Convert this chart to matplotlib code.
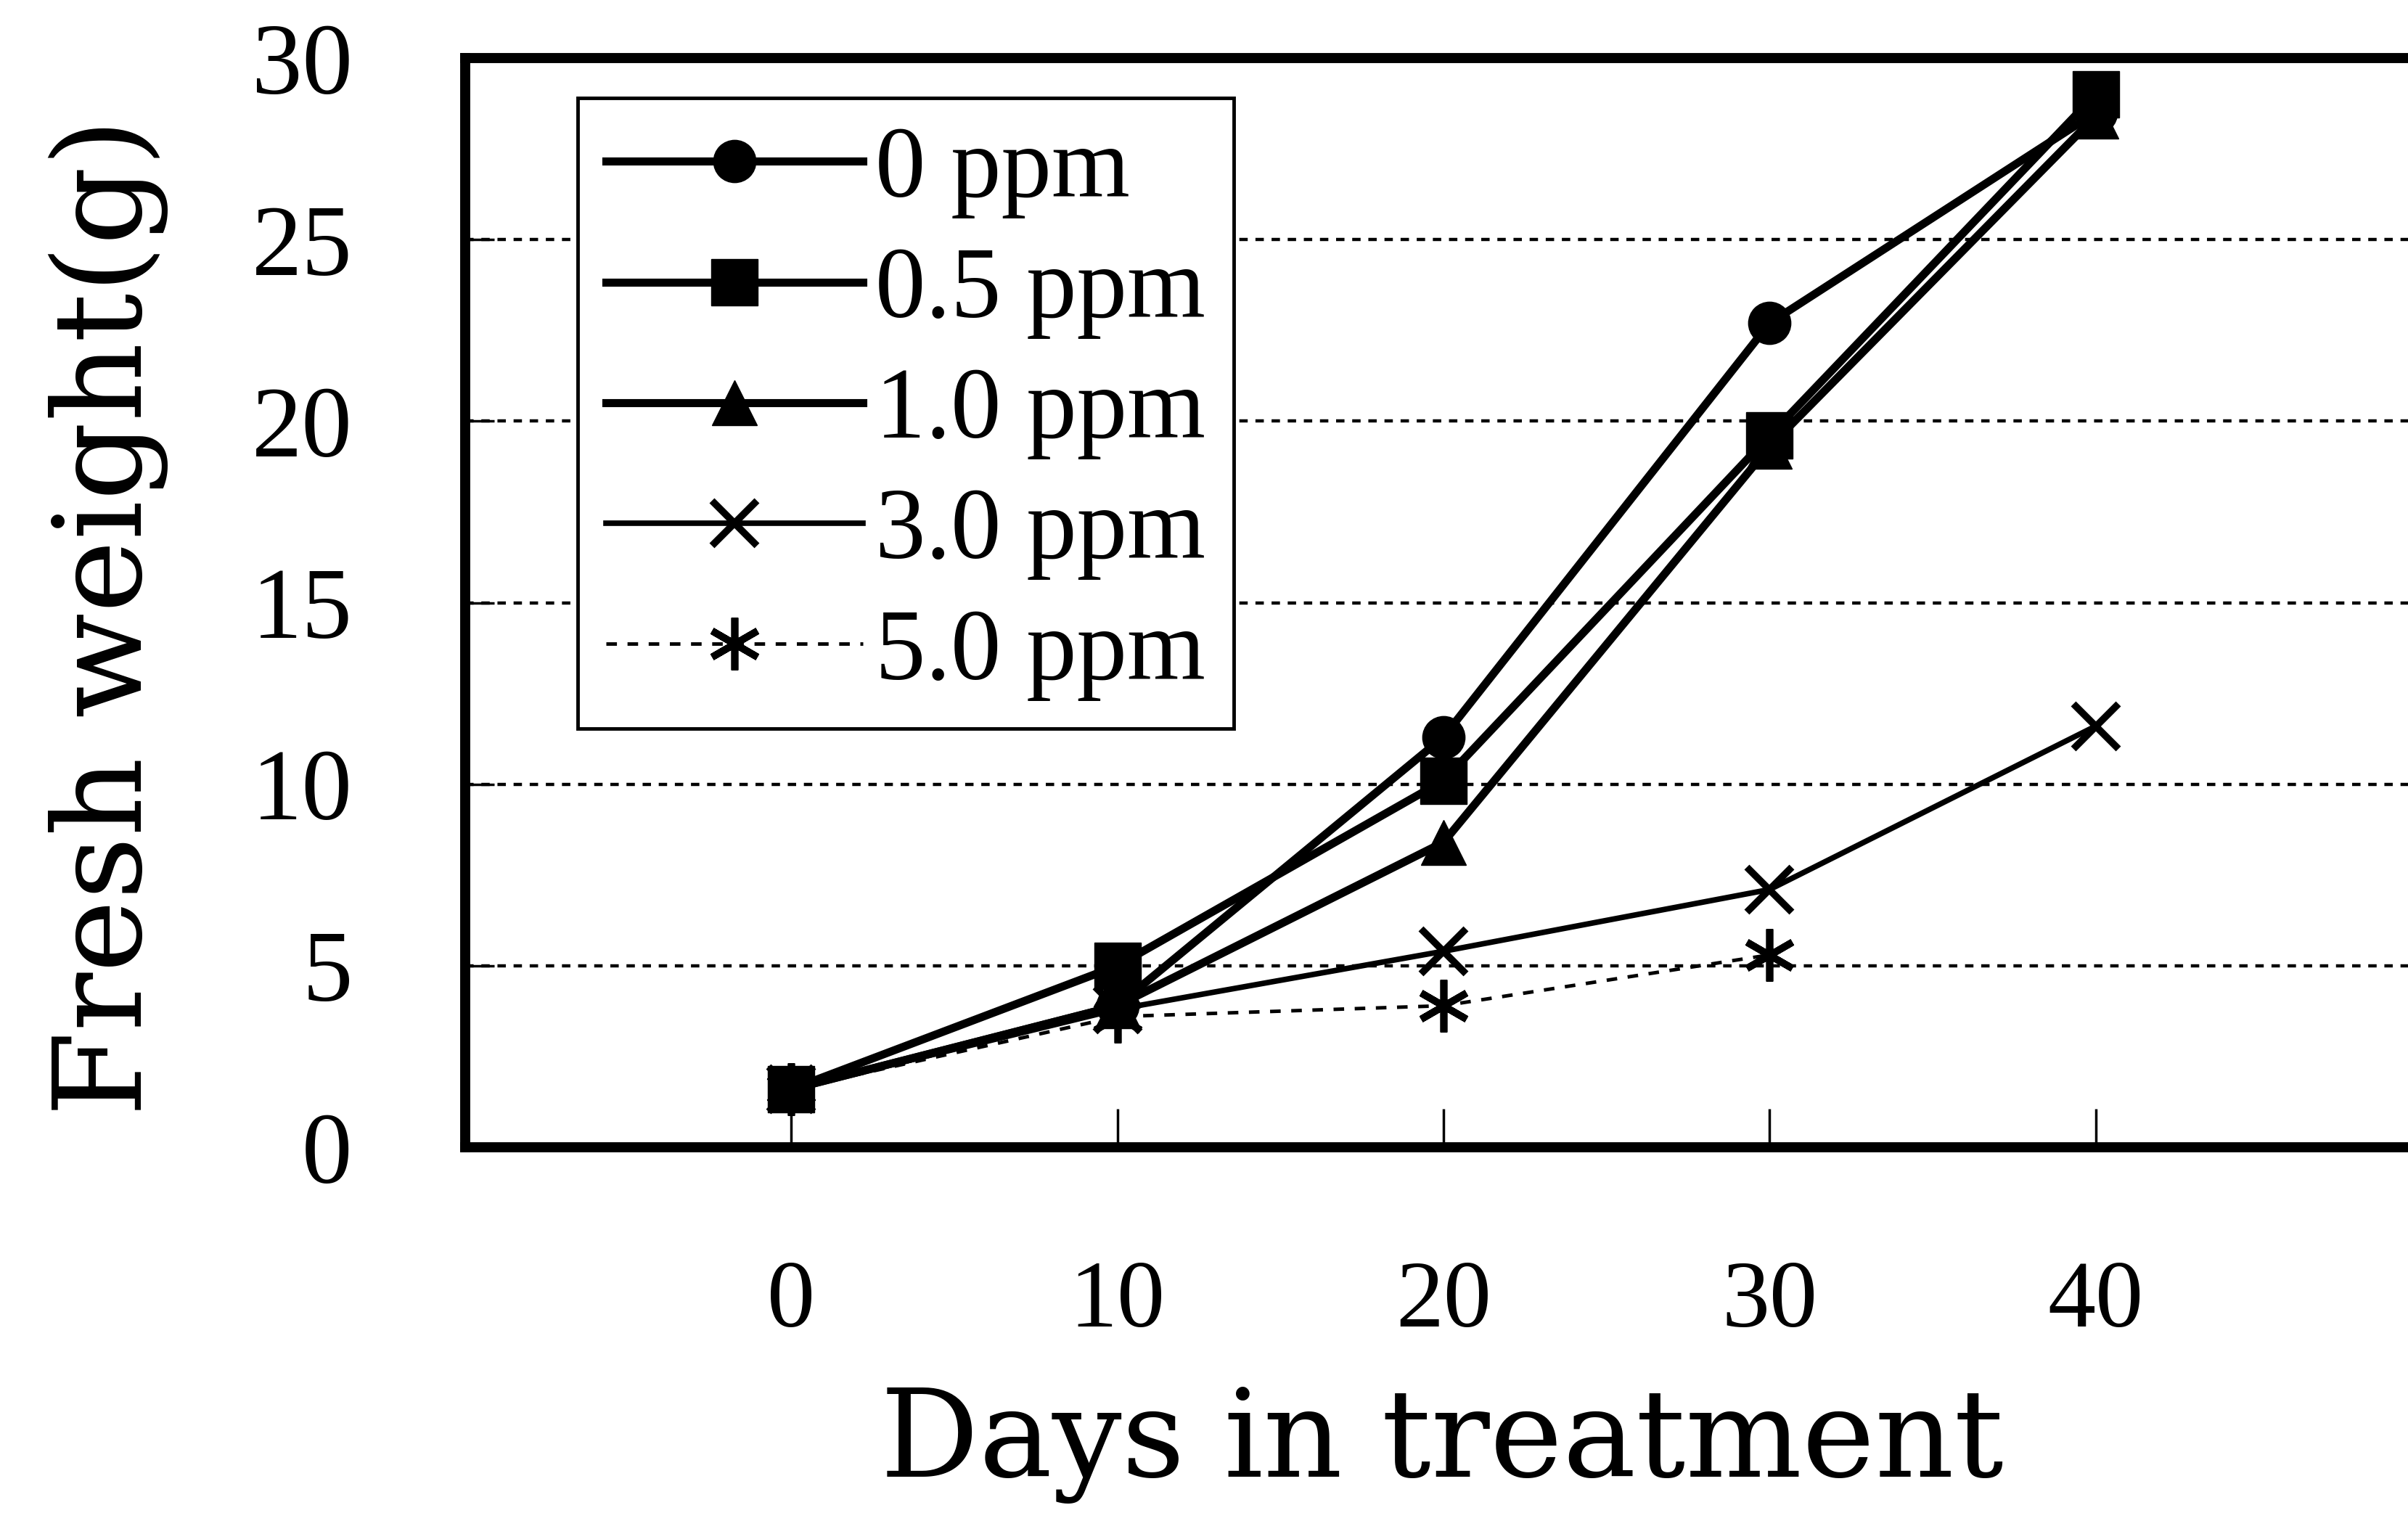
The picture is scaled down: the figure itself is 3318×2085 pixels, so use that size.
import matplotlib
matplotlib.use("Agg")
import matplotlib.pyplot as plt

# Fresh weight over time for each treatment concentration
days = [0, 10, 20, 30, 40]
fw_0ppm = [1.6, 3.9, 11.3, 22.7, 28.5]
fw_05ppm = [1.6, 5.0, 10.1, 19.6, 29.0]
fw_10ppm = [1.6, 3.9, 8.4, 19.3, 28.4]
fw_30ppm = [1.6, 3.8, 5.4, 7.1, 11.6]
fw_50ppm = [1.6, 3.6, 3.9, 5.3]

labels = ["0 ppm", "0.5 ppm", "1.0 ppm", "3.0 ppm", "5.0 ppm"]
x_ticks = [0, 10, 20, 30, 40]
y_ticks = [0, 5, 10, 15, 20, 25, 30]

tick_font = "Liberation Serif"
label_font = "DejaVu Serif"

fig = plt.figure(figsize=(33.18, 20.85), dpi=100)
ax = fig.add_axes([0.1932, 0.2417, 0.8125, 0.7199])

# horizontal dashed guide lines
for y in y_ticks[1:-1]:
    ax.axhline(y, color="black", lw=3.2, ls=(0, (2.6, 2.4)), zorder=1)

ax.plot(days, fw_0ppm, color="black", lw=8, marker="o", ms=42,
        label=labels[0], zorder=4)
ax.plot(days, fw_05ppm, color="black", lw=8, marker="s", ms=46,
        label=labels[1], zorder=6)
ax.plot(days, fw_10ppm, color="black", lw=8, marker="^", ms=44,
        label=labels[2], zorder=5)
ax.plot(days, fw_30ppm, color="black", lw=5.5, marker="x", ms=44, mew=7,
        label=labels[3], zorder=3)
ax.plot(days[:len(fw_50ppm)], fw_50ppm, color="black", lw=3.5,
        ls=(0, (3.0, 3.0)), marker=(6, 2, 0), ms=52, mew=7,
        label=labels[4], zorder=2)

ax.set_xlim(-10, 50)
ax.set_ylim(0, 30)
ax.set_xticks(x_ticks)
ax.set_yticks(y_ticks)
ax.set_xticklabels([str(v) for v in x_ticks], fontfamily=tick_font, fontsize=95)
ax.set_yticklabels([str(v) for v in y_ticks], fontfamily=tick_font, fontsize=100)
ax.tick_params(axis="y", direction="in", length=29, width=2.5, pad=112)
ax.tick_params(axis="x", direction="in", length=38, width=2.5, pad=112)

for side in ["left", "bottom", "top", "right"]:
    ax.spines[side].set_linewidth(10)

leg = ax.legend(loc="upper left", bbox_to_anchor=(796 / 3318, 1 - 135 / 2085),
                bbox_transform=fig.transFigure, borderaxespad=0,
                prop={"family": tick_font, "size": 100},
                handlelength=2.55, handletextpad=0.12, labelspacing=0.28,
                borderpad=0.28, fancybox=False, framealpha=1,
                edgecolor="black")
leg.get_frame().set_linewidth(3.5)

fig.text(1987 / 3318, 1 - 2035 / 2085, "Days in treatment",
         fontfamily=label_font, fontsize=122, ha="center", va="baseline")
fig.text(195 / 3318, 0.592, "Fresh weight(g)", fontfamily=label_font,
         fontsize=122, rotation=90, ha="center", va="baseline",
         rotation_mode="anchor")

fig.savefig("out.png", dpi=100)
